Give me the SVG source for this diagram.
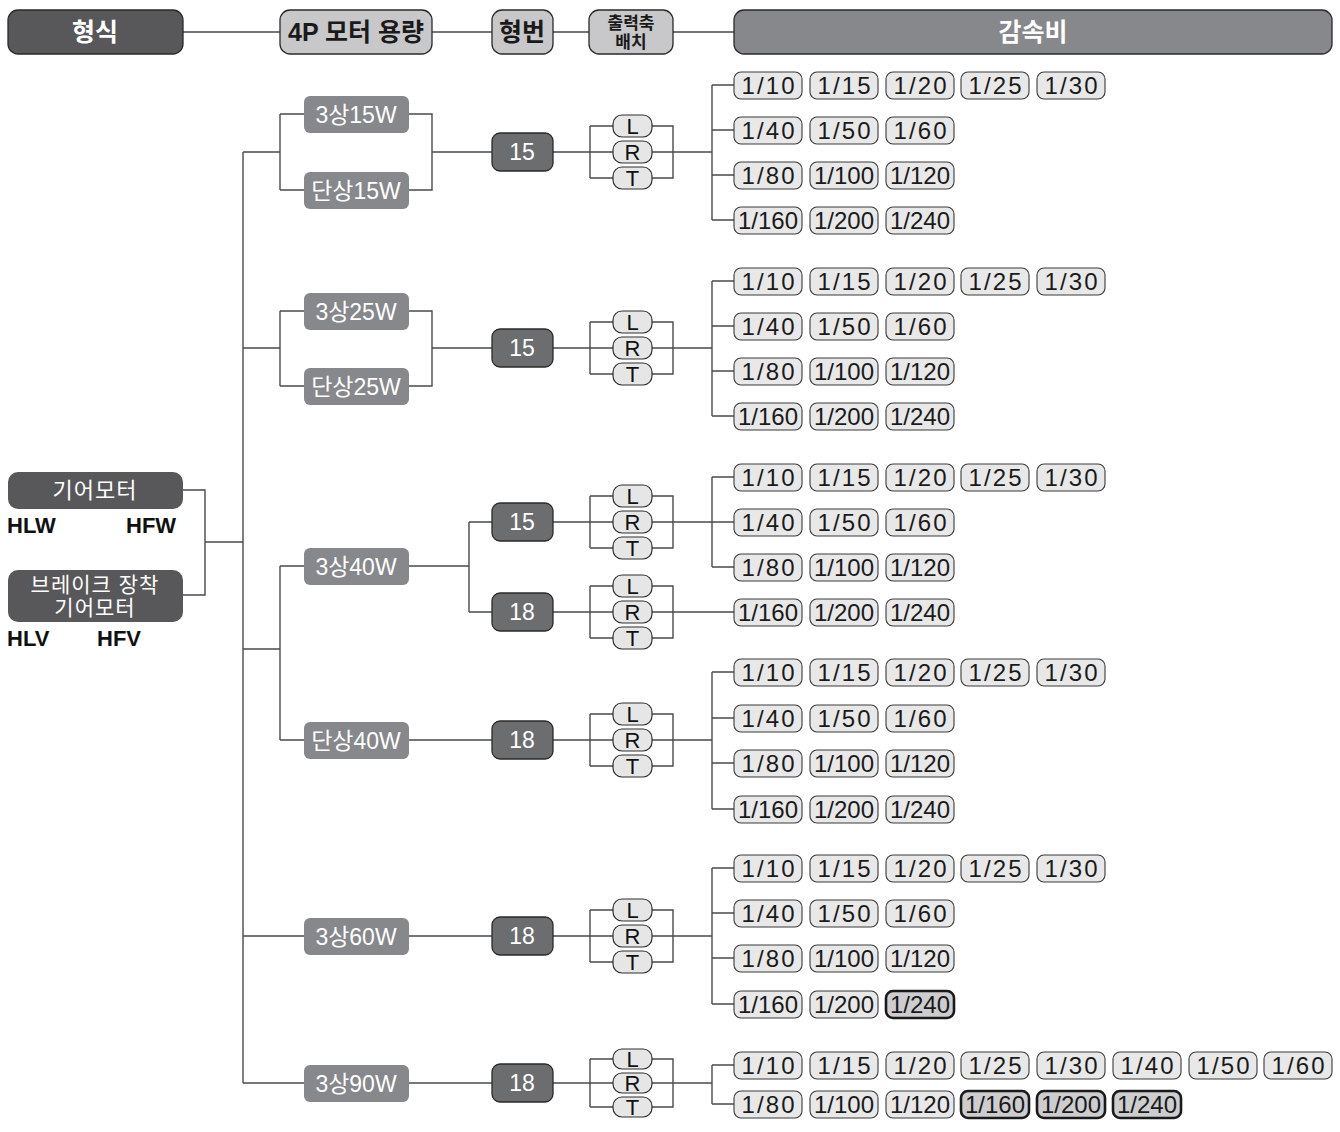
<svg xmlns="http://www.w3.org/2000/svg" width="1340" height="1132" viewBox="0 0 1340 1132">
<style>
text{font-family:"Liberation Sans","Noto Sans CJK KR",sans-serif}
.hd{stroke:#2a2a2a;stroke-width:1.3}
.hdark{fill:#58585a}
.hlight{fill:#c8c8ca}
.hmid{fill:#87888b}
.ht{font-size:25px;font-weight:bold;text-anchor:middle}
.w{fill:#fff}
.k{fill:#1a1a1a}
.nd{fill:#87888b}
.nt{font-size:23px;fill:#fff;text-anchor:middle}
.tp{fill:#6c6d6f;stroke:#2a2a2a;stroke-width:1.3}
.lr{fill:#e6e6e6;stroke:#2f2f2f;stroke-width:1.2}
.lt{font-size:22px;fill:#111;text-anchor:middle}
.r{fill:#e8e8e8;stroke:#3a3a3a;stroke-width:1.1}
.rh{fill:#cdcdcf;stroke:#1a1a1a;stroke-width:2.6}
.rt{font-size:24px;fill:#1a1a1a;text-anchor:middle}
.code{font-size:22px;font-weight:bold;fill:#111}
.cn{fill:none;stroke:#4a4a4a;stroke-width:1.4}
</style>

<g id="connectors" class="cn">
<path d="M183 32H280M432 32H492M553 32H589M673 32H734"/>
<path d="M183 490H205V595H183M205 542H243M243 152V1083"/>
<path d="M243 152H280M280 114V190M280 114H304M280 190H304M409 114H432V190H409M432 152H492"/>
<path d="M243 348H280M280 311V386M280 311H304M280 386H304M409 311H432V386H409M432 348H492"/>
<path d="M243 649H280M280 566V740M280 566H304M280 740H304M409 566H469M469 522V612M469 522H492M469 612H492M409 740H492"/>
<path d="M243 936H304M409 936H492M243 1083H304M409 1083H492"/>
<path d="M553 152H712M590 126V178M590 126H613M590 178H613M652 126H673V178H652M712 85V220M712 85H734M712 130H734M712 175H734M712 220H734"/>
<path d="M553 348H712M590 322V374M590 322H613M590 374H613M652 322H673V374H652M712 281V416M712 281H734M712 326H734M712 371H734M712 416H734"/>
<path d="M553 522H712M590 496V548M590 496H613M590 548H613M652 496H673V548H652M712 477V567M712 477H734M712 522H734M712 567H734"/>
<path d="M553 612H734M590 586V638M590 586H613M590 638H613M652 586H673V638H652"/>
<path d="M553 740H712M590 714V766M590 714H613M590 766H613M652 714H673V766H652M712 672V809M712 672H734M712 718H734M712 763H734M712 809H734"/>
<path d="M553 936H712M590 910V962M590 910H613M590 962H613M652 910H673V962H652M712 868V1004M712 868H734M712 913H734M712 958H734M712 1004H734"/>
<path d="M553 1083H712M590 1059V1107M590 1059H613M590 1107H613M652 1059H673V1107H652M712 1065V1104M712 1065H734M712 1104H734"/>
</g>

<g id="h-type"><rect class="hd hdark" x="8" y="10" width="175" height="44" rx="10"/><text class="ht w" x="95" y="41">형식</text></g>
<g id="h-cap"><rect class="hd hlight" x="280" y="10" width="152" height="44" rx="10"/><text class="ht k" x="356" y="41" textLength="136" lengthAdjust="spacingAndGlyphs">4P 모터 용량</text></g>
<g id="h-num"><rect class="hd hlight" x="492" y="10" width="61" height="44" rx="10"/><text class="ht k" x="522" y="41">형번</text></g>
<g id="h-shaft"><rect class="hd hlight" x="589" y="10" width="84" height="44" rx="10"/><text class="ht k" x="631" y="29" style="font-size:17px">출력축</text><text class="ht k" x="631" y="48" style="font-size:17px">배치</text></g>
<g id="h-ratio"><rect class="hd hmid" x="734" y="10" width="598" height="44" rx="10"/><text class="ht w" x="1033" y="41">감속비</text></g>

<g id="gearmotor"><rect class="hdark" x="8" y="472" width="175" height="37" rx="10"/><text class="nt" x="95" y="498" style="font-size:22px;letter-spacing:1px">기어모터</text></g>
<g id="brake-gearmotor"><rect class="hdark" x="8" y="570" width="175" height="52" rx="10"/><text class="nt" x="95" y="592" style="font-size:21px;letter-spacing:1px">브레이크 장착</text><text class="nt" x="95" y="615" style="font-size:21px;letter-spacing:1px">기어모터</text></g>
<g id="codes"><text class="code" x="7" y="533">HLW</text><text class="code" x="126" y="533">HFW</text><text class="code" x="7" y="646">HLV</text><text class="code" x="97" y="646">HFV</text></g>

<g id="n-3p15"><rect class="nd" x="304" y="96" width="105" height="37" rx="6"/><text class="nt" x="356" y="123">3상15W</text></g>
<g id="n-1p15"><rect class="nd" x="304" y="172" width="105" height="37" rx="6"/><text class="nt" x="356" y="199">단상15W</text></g>
<g id="n-3p25"><rect class="nd" x="304" y="293" width="105" height="37" rx="6"/><text class="nt" x="356" y="320">3상25W</text></g>
<g id="n-1p25"><rect class="nd" x="304" y="368" width="105" height="37" rx="6"/><text class="nt" x="356" y="395">단상25W</text></g>
<g id="n-3p40"><rect class="nd" x="304" y="548" width="105" height="37" rx="6"/><text class="nt" x="356" y="575">3상40W</text></g>
<g id="n-1p40"><rect class="nd" x="304" y="722" width="105" height="37" rx="6"/><text class="nt" x="356" y="749">단상40W</text></g>
<g id="n-3p60"><rect class="nd" x="304" y="918" width="105" height="37" rx="6"/><text class="nt" x="356" y="945">3상60W</text></g>
<g id="n-3p90"><rect class="nd" x="304" y="1065" width="105" height="37" rx="6"/><text class="nt" x="356" y="1092">3상90W</text></g>

<g id="t1"><rect class="tp" x="492" y="133" width="61" height="38" rx="8"/><text class="nt" x="522" y="160">15</text></g>
<g id="t2"><rect class="tp" x="492" y="329" width="61" height="38" rx="8"/><text class="nt" x="522" y="356">15</text></g>
<g id="t3a"><rect class="tp" x="492" y="503" width="61" height="38" rx="8"/><text class="nt" x="522" y="530">15</text></g>
<g id="t3b"><rect class="tp" x="492" y="593" width="61" height="38" rx="8"/><text class="nt" x="522" y="620">18</text></g>
<g id="t4"><rect class="tp" x="492" y="721" width="61" height="38" rx="8"/><text class="nt" x="522" y="748">18</text></g>
<g id="t5"><rect class="tp" x="492" y="917" width="61" height="38" rx="8"/><text class="nt" x="522" y="944">18</text></g>
<g id="t6"><rect class="tp" x="492" y="1064" width="61" height="38" rx="8"/><text class="nt" x="522" y="1091">18</text></g>

<g id="lrt1">
<g id="lrt1-L" transform="translate(613,115)"><rect class="lr" width="39" height="22" rx="9"/><text class="lt" x="19.5" y="19">L</text></g>
<g id="lrt1-R" transform="translate(613,141)"><rect class="lr" width="39" height="22" rx="9"/><text class="lt" x="19.5" y="19">R</text></g>
<g id="lrt1-T" transform="translate(613,167)"><rect class="lr" width="39" height="22" rx="9"/><text class="lt" x="19.5" y="19">T</text></g>
</g>
<g id="lrt2">
<g id="lrt2-L" transform="translate(613,311)"><rect class="lr" width="39" height="22" rx="9"/><text class="lt" x="19.5" y="19">L</text></g>
<g id="lrt2-R" transform="translate(613,337)"><rect class="lr" width="39" height="22" rx="9"/><text class="lt" x="19.5" y="19">R</text></g>
<g id="lrt2-T" transform="translate(613,363)"><rect class="lr" width="39" height="22" rx="9"/><text class="lt" x="19.5" y="19">T</text></g>
</g>
<g id="lrt3a">
<g id="lrt3a-L" transform="translate(613,485)"><rect class="lr" width="39" height="22" rx="9"/><text class="lt" x="19.5" y="19">L</text></g>
<g id="lrt3a-R" transform="translate(613,511)"><rect class="lr" width="39" height="22" rx="9"/><text class="lt" x="19.5" y="19">R</text></g>
<g id="lrt3a-T" transform="translate(613,537)"><rect class="lr" width="39" height="22" rx="9"/><text class="lt" x="19.5" y="19">T</text></g>
</g>
<g id="lrt3b">
<g id="lrt3b-L" transform="translate(613,575)"><rect class="lr" width="39" height="22" rx="9"/><text class="lt" x="19.5" y="19">L</text></g>
<g id="lrt3b-R" transform="translate(613,601)"><rect class="lr" width="39" height="22" rx="9"/><text class="lt" x="19.5" y="19">R</text></g>
<g id="lrt3b-T" transform="translate(613,627)"><rect class="lr" width="39" height="22" rx="9"/><text class="lt" x="19.5" y="19">T</text></g>
</g>
<g id="lrt4">
<g id="lrt4-L" transform="translate(613,703)"><rect class="lr" width="39" height="22" rx="9"/><text class="lt" x="19.5" y="19">L</text></g>
<g id="lrt4-R" transform="translate(613,729)"><rect class="lr" width="39" height="22" rx="9"/><text class="lt" x="19.5" y="19">R</text></g>
<g id="lrt4-T" transform="translate(613,755)"><rect class="lr" width="39" height="22" rx="9"/><text class="lt" x="19.5" y="19">T</text></g>
</g>
<g id="lrt5">
<g id="lrt5-L" transform="translate(613,899)"><rect class="lr" width="39" height="22" rx="9"/><text class="lt" x="19.5" y="19">L</text></g>
<g id="lrt5-R" transform="translate(613,925)"><rect class="lr" width="39" height="22" rx="9"/><text class="lt" x="19.5" y="19">R</text></g>
<g id="lrt5-T" transform="translate(613,951)"><rect class="lr" width="39" height="22" rx="9"/><text class="lt" x="19.5" y="19">T</text></g>
</g>
<g id="lrt6">
<g id="lrt6-L" transform="translate(613,1049)"><rect class="lr" width="39" height="20" rx="9"/><text class="lt" x="19.5" y="18">L</text></g>
<g id="lrt6-R" transform="translate(613,1073)"><rect class="lr" width="39" height="20" rx="9"/><text class="lt" x="19.5" y="18">R</text></g>
<g id="lrt6-T" transform="translate(613,1097)"><rect class="lr" width="39" height="20" rx="9"/><text class="lt" x="19.5" y="18">T</text></g>
</g>

<g id="s1">
<g id="s1-a1" transform="translate(734,72)"><rect class="r" width="68" height="27" rx="7"/><text class="rt" x="34" y="22" textLength="53">1/10</text></g>
<g id="s1-a2" transform="translate(810,72)"><rect class="r" width="68" height="27" rx="7"/><text class="rt" x="34" y="22" textLength="53">1/15</text></g>
<g id="s1-a3" transform="translate(886,72)"><rect class="r" width="68" height="27" rx="7"/><text class="rt" x="34" y="22" textLength="53">1/20</text></g>
<g id="s1-a4" transform="translate(961,72)"><rect class="r" width="68" height="27" rx="7"/><text class="rt" x="34" y="22" textLength="53">1/25</text></g>
<g id="s1-a5" transform="translate(1037,72)"><rect class="r" width="68" height="27" rx="7"/><text class="rt" x="34" y="22" textLength="53">1/30</text></g>
<g id="s1-b1" transform="translate(734,117)"><rect class="r" width="68" height="27" rx="7"/><text class="rt" x="34" y="22" textLength="53">1/40</text></g>
<g id="s1-b2" transform="translate(810,117)"><rect class="r" width="68" height="27" rx="7"/><text class="rt" x="34" y="22" textLength="53">1/50</text></g>
<g id="s1-b3" transform="translate(886,117)"><rect class="r" width="68" height="27" rx="7"/><text class="rt" x="34" y="22" textLength="53">1/60</text></g>
<g id="s1-c1" transform="translate(734,162)"><rect class="r" width="68" height="27" rx="7"/><text class="rt" x="34" y="22" textLength="53">1/80</text></g>
<g id="s1-c2" transform="translate(810,162)"><rect class="r" width="68" height="27" rx="7"/><text class="rt" x="34" y="22" textLength="60">1/100</text></g>
<g id="s1-c3" transform="translate(886,162)"><rect class="r" width="68" height="27" rx="7"/><text class="rt" x="34" y="22" textLength="60">1/120</text></g>
<g id="s1-d1" transform="translate(734,207)"><rect class="r" width="68" height="27" rx="7"/><text class="rt" x="34" y="22" textLength="60">1/160</text></g>
<g id="s1-d2" transform="translate(810,207)"><rect class="r" width="68" height="27" rx="7"/><text class="rt" x="34" y="22" textLength="60">1/200</text></g>
<g id="s1-d3" transform="translate(886,207)"><rect class="r" width="68" height="27" rx="7"/><text class="rt" x="34" y="22" textLength="60">1/240</text></g>
</g>
<g id="s2">
<g id="s2-a1" transform="translate(734,268)"><rect class="r" width="68" height="27" rx="7"/><text class="rt" x="34" y="22" textLength="53">1/10</text></g>
<g id="s2-a2" transform="translate(810,268)"><rect class="r" width="68" height="27" rx="7"/><text class="rt" x="34" y="22" textLength="53">1/15</text></g>
<g id="s2-a3" transform="translate(886,268)"><rect class="r" width="68" height="27" rx="7"/><text class="rt" x="34" y="22" textLength="53">1/20</text></g>
<g id="s2-a4" transform="translate(961,268)"><rect class="r" width="68" height="27" rx="7"/><text class="rt" x="34" y="22" textLength="53">1/25</text></g>
<g id="s2-a5" transform="translate(1037,268)"><rect class="r" width="68" height="27" rx="7"/><text class="rt" x="34" y="22" textLength="53">1/30</text></g>
<g id="s2-b1" transform="translate(734,313)"><rect class="r" width="68" height="27" rx="7"/><text class="rt" x="34" y="22" textLength="53">1/40</text></g>
<g id="s2-b2" transform="translate(810,313)"><rect class="r" width="68" height="27" rx="7"/><text class="rt" x="34" y="22" textLength="53">1/50</text></g>
<g id="s2-b3" transform="translate(886,313)"><rect class="r" width="68" height="27" rx="7"/><text class="rt" x="34" y="22" textLength="53">1/60</text></g>
<g id="s2-c1" transform="translate(734,358)"><rect class="r" width="68" height="27" rx="7"/><text class="rt" x="34" y="22" textLength="53">1/80</text></g>
<g id="s2-c2" transform="translate(810,358)"><rect class="r" width="68" height="27" rx="7"/><text class="rt" x="34" y="22" textLength="60">1/100</text></g>
<g id="s2-c3" transform="translate(886,358)"><rect class="r" width="68" height="27" rx="7"/><text class="rt" x="34" y="22" textLength="60">1/120</text></g>
<g id="s2-d1" transform="translate(734,403)"><rect class="r" width="68" height="27" rx="7"/><text class="rt" x="34" y="22" textLength="60">1/160</text></g>
<g id="s2-d2" transform="translate(810,403)"><rect class="r" width="68" height="27" rx="7"/><text class="rt" x="34" y="22" textLength="60">1/200</text></g>
<g id="s2-d3" transform="translate(886,403)"><rect class="r" width="68" height="27" rx="7"/><text class="rt" x="34" y="22" textLength="60">1/240</text></g>
</g>
<g id="s3">
<g id="s3-a1" transform="translate(734,464)"><rect class="r" width="68" height="27" rx="7"/><text class="rt" x="34" y="22" textLength="53">1/10</text></g>
<g id="s3-a2" transform="translate(810,464)"><rect class="r" width="68" height="27" rx="7"/><text class="rt" x="34" y="22" textLength="53">1/15</text></g>
<g id="s3-a3" transform="translate(886,464)"><rect class="r" width="68" height="27" rx="7"/><text class="rt" x="34" y="22" textLength="53">1/20</text></g>
<g id="s3-a4" transform="translate(961,464)"><rect class="r" width="68" height="27" rx="7"/><text class="rt" x="34" y="22" textLength="53">1/25</text></g>
<g id="s3-a5" transform="translate(1037,464)"><rect class="r" width="68" height="27" rx="7"/><text class="rt" x="34" y="22" textLength="53">1/30</text></g>
<g id="s3-b1" transform="translate(734,509)"><rect class="r" width="68" height="27" rx="7"/><text class="rt" x="34" y="22" textLength="53">1/40</text></g>
<g id="s3-b2" transform="translate(810,509)"><rect class="r" width="68" height="27" rx="7"/><text class="rt" x="34" y="22" textLength="53">1/50</text></g>
<g id="s3-b3" transform="translate(886,509)"><rect class="r" width="68" height="27" rx="7"/><text class="rt" x="34" y="22" textLength="53">1/60</text></g>
<g id="s3-c1" transform="translate(734,554)"><rect class="r" width="68" height="27" rx="7"/><text class="rt" x="34" y="22" textLength="53">1/80</text></g>
<g id="s3-c2" transform="translate(810,554)"><rect class="r" width="68" height="27" rx="7"/><text class="rt" x="34" y="22" textLength="60">1/100</text></g>
<g id="s3-c3" transform="translate(886,554)"><rect class="r" width="68" height="27" rx="7"/><text class="rt" x="34" y="22" textLength="60">1/120</text></g>
<g id="s3-d1" transform="translate(734,599)"><rect class="r" width="68" height="27" rx="7"/><text class="rt" x="34" y="22" textLength="60">1/160</text></g>
<g id="s3-d2" transform="translate(810,599)"><rect class="r" width="68" height="27" rx="7"/><text class="rt" x="34" y="22" textLength="60">1/200</text></g>
<g id="s3-d3" transform="translate(886,599)"><rect class="r" width="68" height="27" rx="7"/><text class="rt" x="34" y="22" textLength="60">1/240</text></g>
</g>
<g id="s4">
<g id="s4-a1" transform="translate(734,659)"><rect class="r" width="68" height="27" rx="7"/><text class="rt" x="34" y="22" textLength="53">1/10</text></g>
<g id="s4-a2" transform="translate(810,659)"><rect class="r" width="68" height="27" rx="7"/><text class="rt" x="34" y="22" textLength="53">1/15</text></g>
<g id="s4-a3" transform="translate(886,659)"><rect class="r" width="68" height="27" rx="7"/><text class="rt" x="34" y="22" textLength="53">1/20</text></g>
<g id="s4-a4" transform="translate(961,659)"><rect class="r" width="68" height="27" rx="7"/><text class="rt" x="34" y="22" textLength="53">1/25</text></g>
<g id="s4-a5" transform="translate(1037,659)"><rect class="r" width="68" height="27" rx="7"/><text class="rt" x="34" y="22" textLength="53">1/30</text></g>
<g id="s4-b1" transform="translate(734,705)"><rect class="r" width="68" height="27" rx="7"/><text class="rt" x="34" y="22" textLength="53">1/40</text></g>
<g id="s4-b2" transform="translate(810,705)"><rect class="r" width="68" height="27" rx="7"/><text class="rt" x="34" y="22" textLength="53">1/50</text></g>
<g id="s4-b3" transform="translate(886,705)"><rect class="r" width="68" height="27" rx="7"/><text class="rt" x="34" y="22" textLength="53">1/60</text></g>
<g id="s4-c1" transform="translate(734,750)"><rect class="r" width="68" height="27" rx="7"/><text class="rt" x="34" y="22" textLength="53">1/80</text></g>
<g id="s4-c2" transform="translate(810,750)"><rect class="r" width="68" height="27" rx="7"/><text class="rt" x="34" y="22" textLength="60">1/100</text></g>
<g id="s4-c3" transform="translate(886,750)"><rect class="r" width="68" height="27" rx="7"/><text class="rt" x="34" y="22" textLength="60">1/120</text></g>
<g id="s4-d1" transform="translate(734,796)"><rect class="r" width="68" height="27" rx="7"/><text class="rt" x="34" y="22" textLength="60">1/160</text></g>
<g id="s4-d2" transform="translate(810,796)"><rect class="r" width="68" height="27" rx="7"/><text class="rt" x="34" y="22" textLength="60">1/200</text></g>
<g id="s4-d3" transform="translate(886,796)"><rect class="r" width="68" height="27" rx="7"/><text class="rt" x="34" y="22" textLength="60">1/240</text></g>
</g>
<g id="s5">
<g id="s5-a1" transform="translate(734,855)"><rect class="r" width="68" height="27" rx="7"/><text class="rt" x="34" y="22" textLength="53">1/10</text></g>
<g id="s5-a2" transform="translate(810,855)"><rect class="r" width="68" height="27" rx="7"/><text class="rt" x="34" y="22" textLength="53">1/15</text></g>
<g id="s5-a3" transform="translate(886,855)"><rect class="r" width="68" height="27" rx="7"/><text class="rt" x="34" y="22" textLength="53">1/20</text></g>
<g id="s5-a4" transform="translate(961,855)"><rect class="r" width="68" height="27" rx="7"/><text class="rt" x="34" y="22" textLength="53">1/25</text></g>
<g id="s5-a5" transform="translate(1037,855)"><rect class="r" width="68" height="27" rx="7"/><text class="rt" x="34" y="22" textLength="53">1/30</text></g>
<g id="s5-b1" transform="translate(734,900)"><rect class="r" width="68" height="27" rx="7"/><text class="rt" x="34" y="22" textLength="53">1/40</text></g>
<g id="s5-b2" transform="translate(810,900)"><rect class="r" width="68" height="27" rx="7"/><text class="rt" x="34" y="22" textLength="53">1/50</text></g>
<g id="s5-b3" transform="translate(886,900)"><rect class="r" width="68" height="27" rx="7"/><text class="rt" x="34" y="22" textLength="53">1/60</text></g>
<g id="s5-c1" transform="translate(734,945)"><rect class="r" width="68" height="27" rx="7"/><text class="rt" x="34" y="22" textLength="53">1/80</text></g>
<g id="s5-c2" transform="translate(810,945)"><rect class="r" width="68" height="27" rx="7"/><text class="rt" x="34" y="22" textLength="60">1/100</text></g>
<g id="s5-c3" transform="translate(886,945)"><rect class="r" width="68" height="27" rx="7"/><text class="rt" x="34" y="22" textLength="60">1/120</text></g>
<g id="s5-d1" transform="translate(734,991)"><rect class="r" width="68" height="27" rx="7"/><text class="rt" x="34" y="22" textLength="60">1/160</text></g>
<g id="s5-d2" transform="translate(810,991)"><rect class="r" width="68" height="27" rx="7"/><text class="rt" x="34" y="22" textLength="60">1/200</text></g>
<g id="s5-d3" transform="translate(886,991)"><rect class="rh" width="68" height="27" rx="7"/><text class="rt" x="34" y="22" textLength="60">1/240</text></g>
</g>
<g id="s6">
<g id="s6-a1" transform="translate(734,1052)"><rect class="r" width="68" height="27" rx="7"/><text class="rt" x="34" y="22" textLength="53">1/10</text></g>
<g id="s6-a2" transform="translate(810,1052)"><rect class="r" width="68" height="27" rx="7"/><text class="rt" x="34" y="22" textLength="53">1/15</text></g>
<g id="s6-a3" transform="translate(886,1052)"><rect class="r" width="68" height="27" rx="7"/><text class="rt" x="34" y="22" textLength="53">1/20</text></g>
<g id="s6-a4" transform="translate(961,1052)"><rect class="r" width="68" height="27" rx="7"/><text class="rt" x="34" y="22" textLength="53">1/25</text></g>
<g id="s6-a5" transform="translate(1037,1052)"><rect class="r" width="68" height="27" rx="7"/><text class="rt" x="34" y="22" textLength="53">1/30</text></g>
<g id="s6-a6" transform="translate(1113,1052)"><rect class="r" width="68" height="27" rx="7"/><text class="rt" x="34" y="22" textLength="53">1/40</text></g>
<g id="s6-a7" transform="translate(1189,1052)"><rect class="r" width="68" height="27" rx="7"/><text class="rt" x="34" y="22" textLength="53">1/50</text></g>
<g id="s6-a8" transform="translate(1264,1052)"><rect class="r" width="68" height="27" rx="7"/><text class="rt" x="34" y="22" textLength="53">1/60</text></g>
<g id="s6-b1" transform="translate(734,1091)"><rect class="r" width="68" height="27" rx="7"/><text class="rt" x="34" y="22" textLength="53">1/80</text></g>
<g id="s6-b2" transform="translate(810,1091)"><rect class="r" width="68" height="27" rx="7"/><text class="rt" x="34" y="22" textLength="60">1/100</text></g>
<g id="s6-b3" transform="translate(886,1091)"><rect class="r" width="68" height="27" rx="7"/><text class="rt" x="34" y="22" textLength="60">1/120</text></g>
<g id="s6-b4" transform="translate(961,1091)"><rect class="rh" width="68" height="27" rx="7"/><text class="rt" x="34" y="22" textLength="60">1/160</text></g>
<g id="s6-b5" transform="translate(1037,1091)"><rect class="rh" width="68" height="27" rx="7"/><text class="rt" x="34" y="22" textLength="60">1/200</text></g>
<g id="s6-b6" transform="translate(1113,1091)"><rect class="rh" width="68" height="27" rx="7"/><text class="rt" x="34" y="22" textLength="60">1/240</text></g>
</g>
</svg>
